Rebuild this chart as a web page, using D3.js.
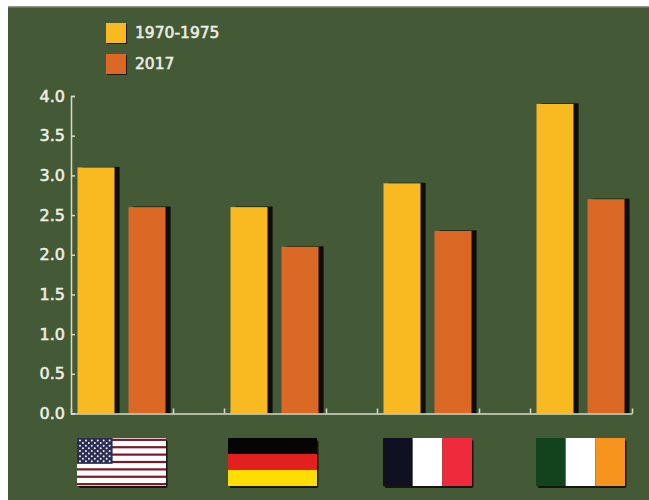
<!DOCTYPE html>
<html>
<head>
<meta charset="utf-8">
<script src="https://cdn.jsdelivr.net/npm/d3@7"></script>
<style>
html,body{margin:0;padding:0;background:#fff;}
svg{display:block;}
text{font-family:"DejaVu Sans",sans-serif;font-weight:400;fill:#eef0e4;stroke:#eef0e4;stroke-width:0.55px;}
</style>
</head>
<body>
<div id="chart"></div>
<script>
// Fertility rate by country, early 1970s against 2017
const countries = ["United States", "Germany", "France", "Ireland"];
const periods = ["1970-1975", "2017"];
const rates1970 = [3.1, 2.6, 2.9, 3.9];
const rates2017 = [2.6, 2.1, 2.3, 2.7];
const yTicks = [0, 0.5, 1, 1.5, 2, 2.5, 3, 3.5, 4];
const periodColors = ["#f9b921", "#dc6826"];
const panelColor = "#445935";
const axisColor = "#d5dcc6";

const width = 649, height = 500;
const svg = d3.select("#chart").append("svg").attr("width", width).attr("height", height);

const defs = svg.append("defs");
const shadow = defs.append("filter").attr("id", "soft")
  .attr("x", "-20%").attr("y", "-20%").attr("width", "140%").attr("height", "140%");
shadow.append("feGaussianBlur").attr("stdDeviation", 0.7);

// Panel with its thin grey top rule
svg.append("rect").attr("x", 8).attr("y", 7).attr("width", width - 8).attr("height", height - 7)
  .attr("fill", panelColor);
svg.append("rect").attr("x", 8).attr("y", 6).attr("width", width - 8).attr("height", 1.5)
  .attr("fill", "#8d9488");

const x = d3.scaleBand().domain(countries).range([71, 632]).paddingInner(1 / 3);
const inner = d3.scaleBand().domain(periods).range([6.5, 94.5]).paddingInner(14 / 51);
const y = d3.scaleLinear().domain([0, 4]).range([413.5, 96]);

// Bars with a dark edge falling to the right
const rows = countries.flatMap((c, i) => [
  { country: c, period: periods[0], value: rates1970[i], color: periodColors[0] },
  { country: c, period: periods[1], value: rates2017[i], color: periodColors[1] }
]);
const barX = d => x(d.country) + inner(d.period);

svg.append("g").selectAll("rect").data(rows).join("rect")
  .attr("x", d => barX(d) + 5).attr("y", d => y(d.value) - 0.5)
  .attr("width", inner.bandwidth()).attr("height", d => y(0) - y(d.value) + 0.5)
  .attr("fill", "#0c0c08").attr("filter", "url(#soft)");
svg.append("g").selectAll("rect").data(rows).join("rect")
  .attr("x", barX).attr("y", d => y(d.value))
  .attr("width", inner.bandwidth()).attr("height", d => y(0) - y(d.value))
  .attr("fill", d => d.color);

// Y axis with inward ticks
const yAxis = d3.axisLeft(y).tickValues(yTicks).tickFormat(d3.format(".1f")).tickSize(-4).tickPadding(6);
const yG = svg.append("g").attr("transform", "translate(71,0)").call(yAxis);
yG.selectAll("path,line").attr("stroke", axisColor).attr("stroke-width", 1.5);
yG.selectAll("text").attr("font-size", 16);

// X axis: a tick at each edge of every country group
const edges = countries.flatMap(c => [x(c), x(c) + x.bandwidth()]);
const xAxis = d3.axisBottom(d3.scaleIdentity().domain([71, 632]).range([71, 632]))
  .tickValues(edges).tickSize(-5).tickSizeOuter(0).tickFormat("");
const xG = svg.append("g").attr("transform", `translate(0,${y(0)})`).call(xAxis);
xG.selectAll("path,line").attr("stroke", axisColor).attr("stroke-width", 1.5);

// Legend
const legend = svg.append("g").selectAll("g").data(periods).join("g")
  .attr("transform", (d, i) => `translate(106,${23 + i * 31})`);
legend.append("rect").attr("x", 1).attr("y", 1).attr("width", 20).attr("height", 20)
  .attr("fill", "#1c1408").attr("filter", "url(#soft)");
legend.append("rect").attr("width", 20).attr("height", 20)
  .attr("fill", (d, i) => periodColors[i]);
legend.append("text").attr("x", 29).attr("y", 9).attr("dy", "0.36em")
  .attr("font-size", 15.5).text(d => d);

// Flags under each country group
const flagWidth = 89, flagHeight = 48, flagTop = 438;
const flagLeft = c => x(c) + (c === "Germany" ? 4 : 6);
const flags = svg.append("g").selectAll("g").data(countries).join("g")
  .attr("transform", c => `translate(${flagLeft(c)},${flagTop})`);
flags.append("rect").attr("x", 1.5).attr("y", 2).attr("width", flagWidth).attr("height", flagHeight)
  .attr("rx", 2).attr("fill", "#12120c").attr("filter", "url(#soft)");

const vertical = { France: ["#0f1020", "#ffffff", "#ee2a3c"], Ireland: ["#12431c", "#ffffff", "#f7941e"] };
const horizontal = { Germany: ["#050505", "#e1201f", "#fedd00"] };
const stripeCount = 13;
const starRows = d3.range(9), starCols = d3.range(11);

flags.each(function (c) {
  const g = d3.select(this);
  if (vertical[c]) {
    const s = d3.scaleBand().domain(d3.range(3)).range([0, flagWidth]);
    g.selectAll("rect.band").data(vertical[c]).join("rect").attr("class", "band")
      .attr("x", (d, i) => s(i)).attr("y", 0).attr("width", s.bandwidth()).attr("height", flagHeight).attr("fill", d => d);
  } else if (horizontal[c]) {
    const s = d3.scaleBand().domain(d3.range(3)).range([0, flagHeight]);
    g.selectAll("rect.band").data(horizontal[c]).join("rect").attr("class", "band")
      .attr("x", 0).attr("y", (d, i) => s(i)).attr("width", flagWidth).attr("height", s.bandwidth()).attr("fill", d => d);
  } else {
    // Stripes: a white field crossed by narrow dark red bands
    const s = d3.scaleBand().domain(d3.range(stripeCount)).range([0, flagHeight]);
    g.append("rect").attr("width", flagWidth).attr("height", flagHeight).attr("fill", "#ffffff");
    g.selectAll("rect.band").data(d3.range(0, stripeCount, 2)).join("rect").attr("class", "band")
      .attr("x", 0).attr("y", i => s(i) + s.bandwidth() * 0.2).attr("width", flagWidth).attr("height", s.bandwidth() * 0.6)
      .attr("fill", "#7a1a2a");
    const cantonW = flagWidth * 0.4, cantonH = s.bandwidth() * 7;
    g.append("rect").attr("width", cantonW).attr("height", cantonH).attr("fill", "#2b2d55");
    const sx = d3.scalePoint().domain(starCols).range([3, cantonW - 3]);
    const sy = d3.scalePoint().domain(starRows).range([2.5, cantonH - 2.5]);
    starRows.forEach(r => {
      g.selectAll(null).data(starCols.filter(k => (k + r) % 2 === 0)).join("circle")
        .attr("cx", k => sx(k)).attr("cy", sy(r)).attr("r", 1).attr("fill", "#f2f2f2");
    });
  }
});
</script>
</body>
</html>
